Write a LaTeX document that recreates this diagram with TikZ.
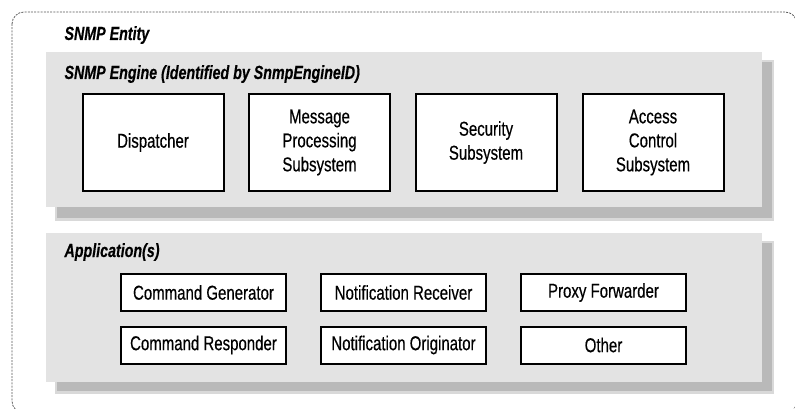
\documentclass[tikz,border=0pt]{standalone}
\usepackage{fontspec}
\setmainfont{Liberation Sans}[FakeStretch=0.75, FakeBold=0.4]

\begin{document}
\begin{tikzpicture}[x=1pt, y=-1pt,
    panel/.style={fill=gray!22},
    part/.style={draw, line width=2pt, fill=white, align=center, inner sep=0pt,
        font=\fontsize{20}{24}\selectfont},
    bigpart/.style={part, minimum width=141pt, minimum height=97pt},
    smallpart/.style={part, minimum width=165pt, minimum height=37pt},
    title/.style={anchor=base west, font=\fontsize{19}{20}\selectfont\bfseries\itshape}]
    \useasboundingbox (0,0) rectangle (795,409);
    % entity frame
    \draw[gray!70!black, line width=0.8pt, dash pattern=on 2pt off 1.2pt,
        rounded corners=12pt] (12,12) rectangle (797,413);
    \node[title] (entity) at (61,40) {SNMP Entity};
    % engine
    \fill[gray!30] (55,60) rectangle (774,221);
    \fill[gray!55] (57,62) rectangle (772,218);
    \fill[panel] (46,52) rectangle (762,207);
    \node[title] (engine) at (61,79) {SNMP Engine (Identified by SnmpEngineID)};
    \foreach \n/\x/\t in {disp/153/Dispatcher,
        mps/319.5/Message\\Processing\\Subsystem,
        sec/486/Security\\Subsystem,
        acs/653/Access\\Control\\Subsystem}
        \node[bigpart] (\n) at (\x,142.5) {\t};
    % applications
    \fill[gray!30] (55,241) rectangle (774,394);
    \fill[gray!55] (57,243) rectangle (772,391);
    \fill[panel] (46,233) rectangle (762,382);
    \node[title] (apps) at (61,257) {Application(s)};
    \foreach \n/\x/\y/\t in {
        cg/203.5/292.5/Command Generator, cr/203.5/345/Command Responder,
        nr/403.5/292.5/Notification Receiver, no/403.5/345/Notification Originator,
        pf/603.5/292.5/Proxy Forwarder, oth/603.5/345/Other}
        \node[smallpart] (\n) at (\x,\y) {\t};
\end{tikzpicture}
\end{document}
